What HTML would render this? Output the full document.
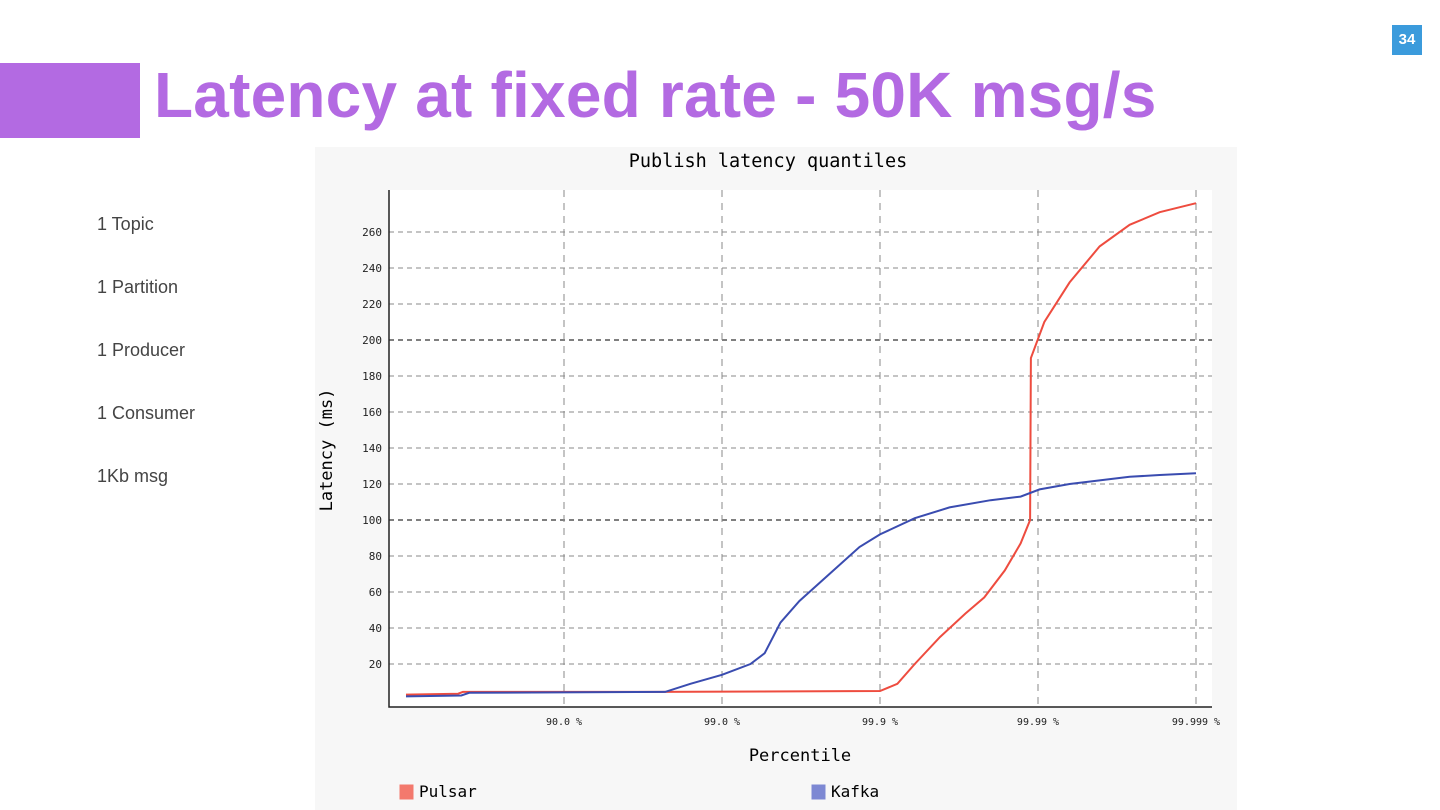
<!DOCTYPE html>
<html><head><meta charset="utf-8"><style>
body{margin:0;width:1440px;height:810px;background:#fff;position:relative;overflow:hidden;font-family:"Liberation Sans",sans-serif}
.side{position:absolute;left:97px;font-size:18px;color:#444}
</style></head><body>
<div style="position:absolute;left:1392px;top:25px;width:30px;height:30px;background:#3b9bdc;color:#fff;font-weight:bold;font-size:15px;text-align:center;line-height:30px">34</div>
<div style="position:absolute;left:0;top:63px;width:140px;height:75px;background:#b36ae2"></div>
<div style="position:absolute;left:154px;top:58px;font-size:64px;font-weight:bold;color:#b36ae2;letter-spacing:0.2px;white-space:nowrap">Latency at fixed rate - 50K msg/s</div>
<div class="side" style="top:214px">1 Topic</div>
<div class="side" style="top:277px">1 Partition</div>
<div class="side" style="top:340px">1 Producer</div>
<div class="side" style="top:403px">1 Consumer</div>
<div class="side" style="top:466px">1Kb msg</div>
<svg id="chart" style="position:absolute;left:0;top:0" width="1440" height="810" font-family="'DejaVu Sans Mono','Liberation Mono',monospace"></svg>
<script>
const yTicks=[20,40,60,80,100,120,140,160,180,200,220,240,260];
const xTickDecades=[1,2,3,4,5];
const xTickLabels=["90.0 %","99.0 %","99.9 %","99.99 %","99.999 %"];
const pulsarD=[0,0.33,0.36,1.6,3.0,3.11,3.22,3.38,3.54,3.66,3.79,3.89,3.95,3.955,4.04,4.2,4.39,4.58,4.77,5];
const pulsarV=[3,3.5,4.5,4.5,5,9,20,35,48,57,72,87,100,190,210,232,252,264,271,276];
const kafkaD=[0,0.35,0.4,1.64,1.8,2,2.18,2.27,2.37,2.49,2.68,2.87,3,3.22,3.44,3.7,3.89,4.01,4.2,4.39,4.58,4.77,5];
const kafkaV=[2,2.5,4,4.5,9,14,20,26,43,55,70,85,92,101,107,111,113,117,120,122,124,125,126];
const NS="http://www.w3.org/2000/svg";
const svg=document.getElementById('chart');
const L=389,R=1212,T=190,B=707;
const X=d=>406+158*d;
const Y=v=>700-1.8*v;
function mk(t,a,p){const e=document.createElementNS(NS,t);for(const k in a)e.setAttribute(k,a[k]);(p||svg).appendChild(e);return e;}
const bg=mk('rect',{x:315,y:147,width:922,height:663,fill:'#f7f7f7'});


const pa=mk('rect',{x:L,y:T,width:R-L,height:B-T,fill:'#fff'});


const t=mk('text',{x:768,y:167,'text-anchor':'middle','font-size':18.5,fill:'#000'});t.textContent='Publish latency quantiles';


yTicks.forEach(v=>{const major=v%100===0;
 const g=mk('line',{x1:L,x2:R,y1:Y(v),y2:Y(v),stroke:major?'#555':'#888','stroke-width':major?1.5:1,'stroke-dasharray':'5,4'});
 
 
 const l=mk('text',{x:382,y:Y(v)+4,'text-anchor':'end','font-size':11,fill:'#222'});l.textContent=v;
 
 
});
xTickDecades.forEach((d,i)=>{
 const g=mk('line',{x1:X(d),x2:X(d),y1:T,y2:B,stroke:'#888','stroke-dasharray':'7,6'});
 
 
 const l=mk('text',{x:X(d),y:725,'text-anchor':'middle','font-size':10,fill:'#222'});l.textContent=xTickLabels[i];
 
 
});
const ax=mk('path',{d:`M${L} ${T}V${B}H${R}`,fill:'none',stroke:'#222','stroke-width':1.5});


const yt=mk('text',{x:0,y:0,'text-anchor':'middle','font-size':17,fill:'#000',transform:'translate(332,450) rotate(-90)'});yt.textContent='Latency (ms)';


const xt=mk('text',{x:800,y:761,'text-anchor':'middle','font-size':17,fill:'#000'});xt.textContent='Percentile';


function line(ds,vs,c,name){const p=mk('polyline',{points:ds.map((d,i)=>X(d)+','+Y(vs[i])).join(' '),fill:'none',stroke:c,'stroke-width':2});
 
 }
line(pulsarD,pulsarV,'#ee4c3f','pulsar-line');
line(kafkaD,kafkaV,'#3a4cb0','kafka-line');
[[400,'#f3796d','Pulsar','legend-pulsar'],[812,'#7d88d3','Kafka','legend-kafka']].forEach(([x,c,n,dn])=>{
 const g=mk('g',{});
 
 
 mk('rect',{x:x,y:785,width:13,height:14,fill:c,stroke:c},g);
 const tx=mk('text',{x:x+19,y:797,'font-size':16,fill:'#000'},g);tx.textContent=n;
});
</script>
</body></html>
